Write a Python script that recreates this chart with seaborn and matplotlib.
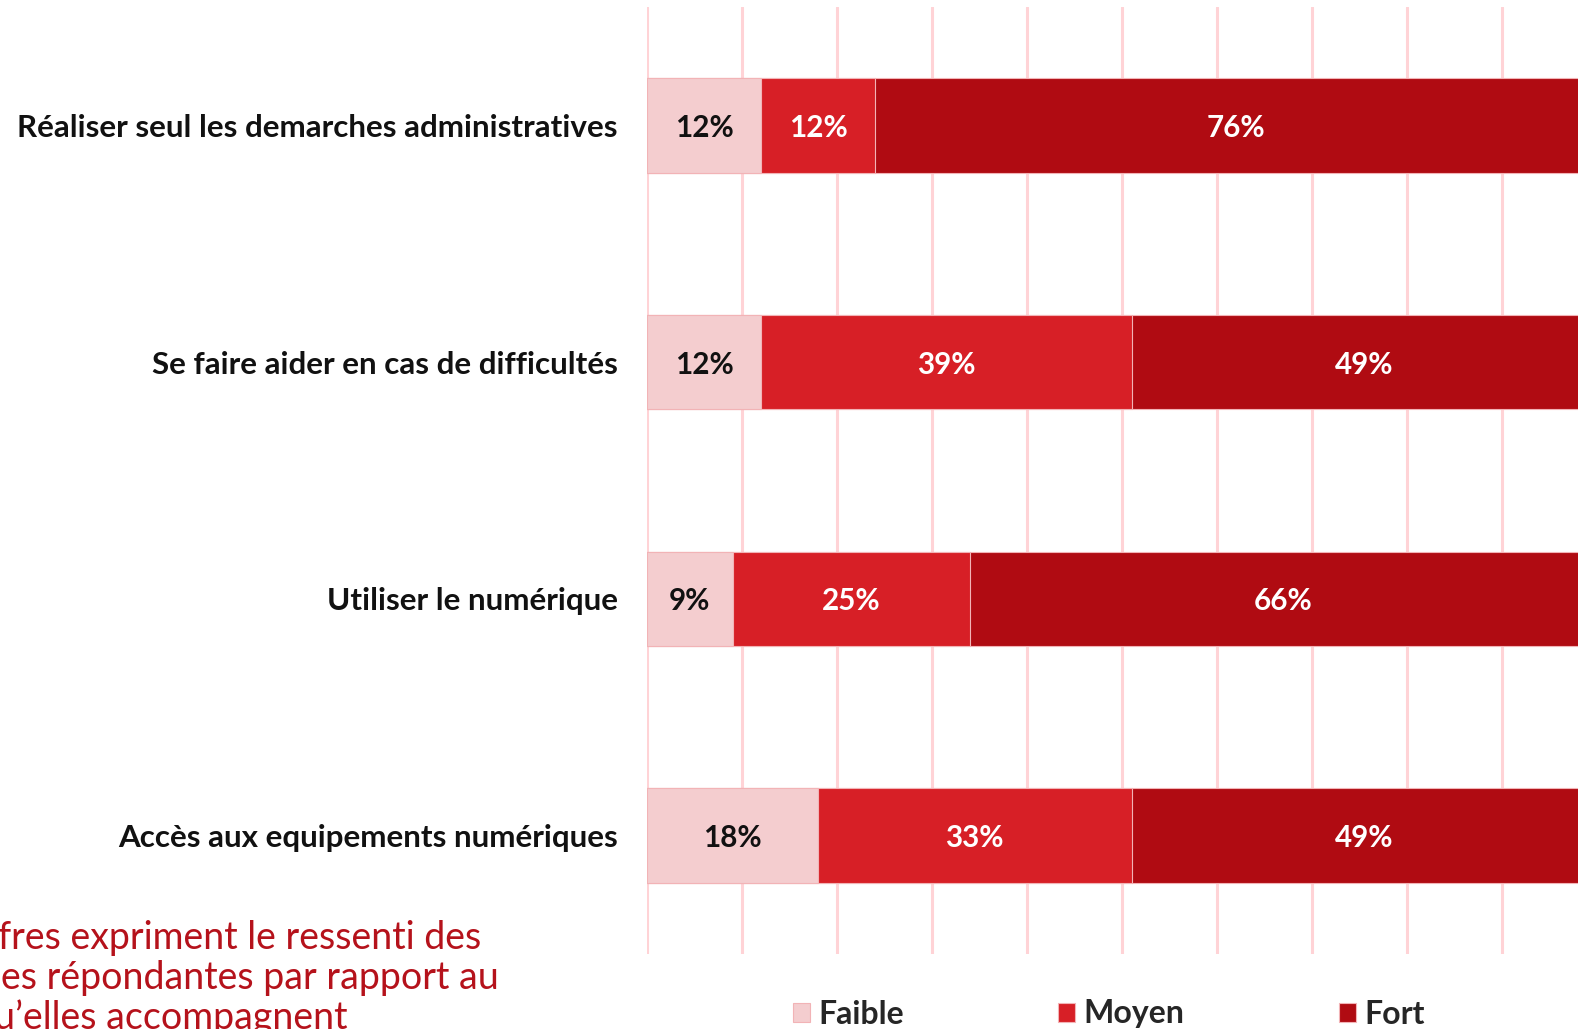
import matplotlib
matplotlib.use("Agg")
import matplotlib.pyplot as plt
import seaborn as sns
import pandas as pd

# Survey items, top to bottom
categories = [
    "Réaliser seul les demarches administratives",
    "Se faire aider en cas de difficultés",
    "Utiliser le numérique",
    "Accès aux equipements numériques",
]
# Share of answers per level (%)
faible = [12, 12, 9, 18]
moyen = [12, 39, 25, 33]
fort = [76, 49, 66, 49]

levels = ["Faible", "Moyen", "Fort"]
level_colors = ["#f4cdcf", "#d71f26", "#b00b12"]
label_colors = ["#111111", "white", "white"]

note_lines = [
    "fres expriment le ressenti des",
    "es répondantes par rapport au",
    "u\u2019elles accompagnent",
]

sns.set_theme(style="white")
plt.rcParams["font.family"] = ["Lato", "DejaVu Sans"]

W, H = 1578, 1029
fig = plt.figure(figsize=(W / 100, H / 100), dpi=100)
ax = fig.add_axes([647 / W, 75 / H, 950 / W, 947 / H])

df = pd.DataFrame({"item": categories, "Faible": faible, "Moyen": moyen, "Fort": fort})
df["cum_Faible"] = df["Faible"]
df["cum_Moyen"] = df["Faible"] + df["Moyen"]
df["cum_Fort"] = df["cum_Moyen"] + df["Fort"]

# Draw cumulative bars from longest to shortest so each segment shows
for lev, col in reversed(list(zip(levels, level_colors))):
    sns.barplot(
        data=df, x=f"cum_{lev}", y="item", orient="h", color=col,
        saturation=1, width=0.4, edgecolor="#f2b3b6", linewidth=0.8,
        label=lev, ax=ax, zorder=3,
    )

# Segment value labels
for i, row in df.iterrows():
    start = 0
    for lev, tcol in zip(levels, label_colors):
        v = row[lev]
        ax.text(start + v / 2, i, f"{v}%", ha="center", va="center_baseline",
                color=tcol, fontsize=21.3, fontweight="bold", zorder=5)
        start += v

ax.set_xlim(0, 100)
ax.set_ylim(3.5, -0.5)
ax.set_xticks(range(0, 101, 10))
ax.set_axisbelow(True)
ax.xaxis.grid(True, color="#ffd3d6", linewidth=2.2)
ax.yaxis.grid(False)
ax.tick_params(axis="x", length=0, labelbottom=False)
ax.tick_params(axis="y", length=0, pad=21, labelsize=22.6, labelcolor="#111111")
for lab in ax.get_yticklabels():
    lab.set_fontweight("bold")
ax.set_xlabel("")
ax.set_ylabel("")
for s in ax.spines.values():
    s.set_visible(False)

# Legend in Faible / Moyen / Fort order
handles, labels = ax.get_legend_handles_labels()
hmap = dict(zip(labels, handles))
if ax.get_legend() is not None:
    ax.get_legend().remove()
fig.legend(
    [hmap[l] for l in levels], levels,
    loc="center left", bbox_to_anchor=(793 / W, 1 - 1014 / H),
    ncol=3, frameon=False, prop={"size": 23, "weight": "bold"},
    handlelength=0.53, handleheight=0.53, handletextpad=0.25,
    columnspacing=4.85, borderpad=0, borderaxespad=0,
)

# Footnote in red at the bottom left
note_x = [-2, 1, -6]
note_base = [949, 989, 1029]
for txt, x, yb in zip(note_lines, note_x, note_base):
    fig.text(x / W, 1 - yb / H, txt, ha="left", va="baseline",
             color="#b5121b", fontsize=27)

fig.savefig("out.png", dpi=100)
